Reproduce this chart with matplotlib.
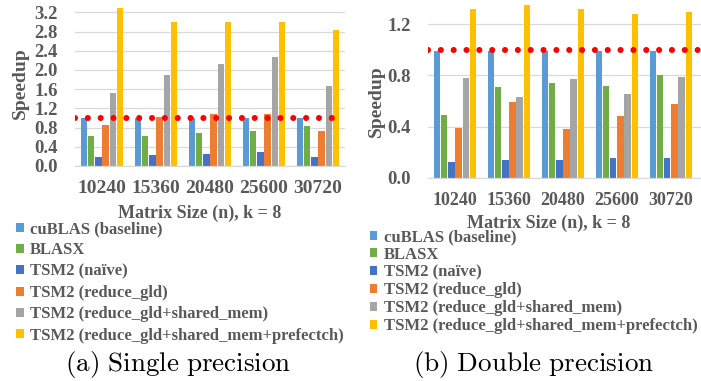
import numpy as np
import matplotlib
matplotlib.use('Agg')
import matplotlib.pyplot as plt
from matplotlib.patches import Patch

sizes = ['10240', '15360', '20480', '25600', '30720']
series = ['cuBLAS (baseline)', 'BLASX', 'TSM2 (naïve)', 'TSM2 (reduce_gld)',
          'TSM2 (reduce_gld+shared_mem)', 'TSM2 (reduce_gld+shared_mem+prefectch)']
colors = ['#5B9BD5', '#70AD47', '#4472C4', '#ED7D31', '#A5A5A5', '#FFC000']

# single precision speedup, one row per series
single = [
    [1.00, 1.00, 1.00, 1.00, 1.00],
    [0.63, 0.63, 0.69, 0.73, 0.83],
    [0.19, 0.23, 0.26, 0.29, 0.19],
    [0.85, 1.03, 1.09, 1.09, 0.73],
    [1.52, 1.89, 2.12, 2.26, 1.66],
    [3.29, 2.99, 2.99, 2.99, 2.83],
]
# double precision speedup
double = [
    [0.99, 0.99, 0.99, 0.99, 0.99],
    [0.49, 0.71, 0.74, 0.72, 0.80],
    [0.12, 0.14, 0.14, 0.155, 0.155],
    [0.39, 0.59, 0.38, 0.48, 0.58],
    [0.78, 0.63, 0.77, 0.655, 0.79],
    [1.32, 1.35, 1.32, 1.28, 1.30],
]
baseline = 1.0

TXT = '#595959'
FONT = 'Liberation Serif'
W, H = 701, 381

fig = plt.figure(figsize=(W / 100, H / 100), dpi=100)

def px_axes(x0, x1, ybot):
    # axes from pixel coords (top of axes at top of image)
    return fig.add_axes([x0 / W, (H - ybot) / H, (x1 - x0) / W, ybot / H])

def draw(ax, data, ymax, yticks, xr, dot_end, tfs):
    x = np.arange(len(sizes))
    pitch, bw = 0.13, 0.112
    for i, vals in enumerate(data):
        ax.bar(x + (i - 2.5) * pitch, vals, width=bw, color=colors[i], zorder=2)
    ax.axhline(baseline, xmin=0, xmax=dot_end, color='#FF0000', lw=4.4,
               linestyle=(0, (0.001, 2.1)), dash_capstyle='round', zorder=3)
    ax.set_xlim(-0.5, xr)
    ax.set_ylim(0, ymax)
    ax.set_yticks(yticks)
    ax.set_yticklabels(['%.1f' % v for v in yticks])
    ax.set_xticks(x)
    ax.set_xticklabels(sizes)
    ax.grid(axis='y', color='#D9D9D9', lw=0.9, zorder=0)
    ax.set_axisbelow(True)
    for s in ['top', 'right', 'left']:
        ax.spines[s].set_visible(False)
    ax.spines['bottom'].set_color('#D9D9D9')
    ax.spines['bottom'].set_linewidth(0.9)
    ax.tick_params(axis='both', length=0, colors=TXT)
    ax.tick_params(axis='y', pad=12.5)
    ax.tick_params(axis='x', pad=10)
    for t in ax.get_yticklabels():
        t.set_fontfamily(FONT); t.set_fontweight('bold'); t.set_fontsize(13.5)
    for t in ax.get_xticklabels():
        t.set_fontfamily(FONT); t.set_fontweight('bold'); t.set_fontsize(tfs)
    ax.set_ylabel('Speedup', family=FONT, weight='bold', size=14, color=TXT)
    ax.set_xlabel('Matrix Size (n), k = 8', family=FONT, weight='bold', size=13, color=TXT)

ax1 = px_axes(75, 345, 166)
draw(ax1, single, 3.456, np.arange(0, 3.3, 0.4), 4.5, 0.955, 14)
ax1.yaxis.set_label_coords(-0.17, 0.5)
ax1.xaxis.set_label_coords(0.463, -0.235)

ax2 = px_axes(428, 701, 177.7)
draw(ax2, double, 1.39, np.arange(0, 1.3, 0.4), 4.556, 1.0, 13)
ax2.yaxis.set_label_coords(-0.158, 0.43)
ax2.xaxis.set_label_coords(0.4425, -0.21)

handles = [Patch(facecolor=c, edgecolor='none') for c in colors]
for anchor, sp in [((16 / W, (H - 221) / H), 0.32), ((370 / W, (H - 229) / H), 0.11)]:
    fig.legend(handles, series, loc='upper left', bbox_to_anchor=anchor, frameon=False,
               prop={'family': FONT, 'weight': 'bold', 'size': 12}, labelcolor=TXT,
               handlelength=0.45, handleheight=0.45, handletextpad=0.4,
               labelspacing=sp, borderpad=0, borderaxespad=0)

fig.text(178 / W, (H - 365) / H, r'$\mathrm{(a)\ Single\ precision}$', ha='center',
         va='center', size=19.5, math_fontfamily='cm')
fig.text(534 / W, (H - 365) / H, r'$\mathrm{(b)\ Double\ precision}$', ha='center',
         va='center', size=19.5, math_fontfamily='cm')

fig.savefig('out.png', dpi=100)
